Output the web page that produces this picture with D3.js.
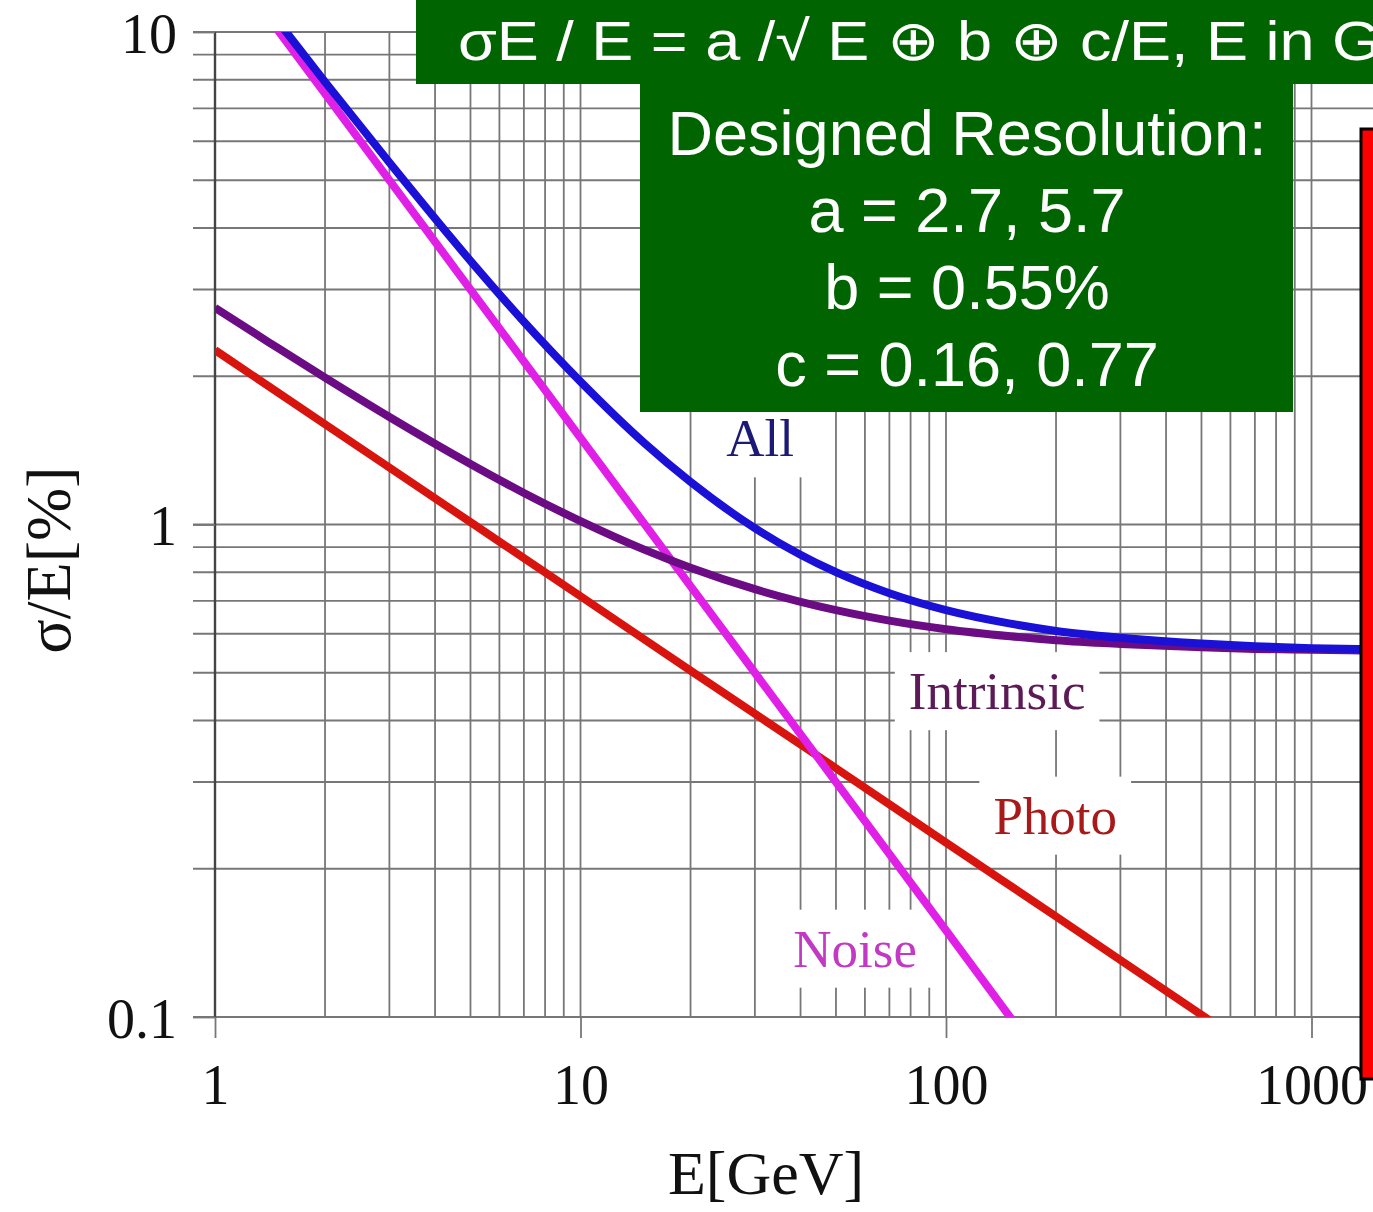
<!DOCTYPE html>
<html>
<head>
<meta charset="utf-8">
<script src="https://cdn.jsdelivr.net/npm/d3@7"></script>
<style>
  html, body { margin: 0; padding: 0; background: #fff; overflow: hidden; }
  svg { display: block; }
</style>
</head>
<body>
<svg id="chart" width="1373" height="1212"></svg>
<script>
// energies (GeV) and resolution (%)
const energies  = [1, 1.4, 1.5, 2, 3, 5, 7, 10, 15, 20, 30, 50, 70, 100, 150, 200, 300, 500, 700, 1000, 1500];
const allRes    = [null, 11.13, 10.42, 7.92, 5.43, 3.43, 2.58, 1.95, 1.46, 1.22, 0.983, 0.800, 0.725, 0.670, 0.629, 0.608, 0.589, 0.573, 0.566, 0.561, 0.558];
const intrinsic = [2.755, 2.347, 2.272, 1.987, 1.653, 1.327, 1.159, 1.016, 0.888, 0.817, 0.739, 0.670, 0.638, 0.613, 0.593, 0.582, 0.572, 0.563, 0.559, 0.557, 0.554];
const photoE    = [1, 2, 5, 10, 20, 50, 100, 200, 500, 700];
const photo     = [2.26, 1.598, 1.011, 0.715, 0.505, 0.320, 0.226, 0.160, 0.101, 0.0854];
const noiseE    = [1.4, 2, 5, 10, 20, 50, 100, 170];
const noise     = [10.7, 7.5, 3.0, 1.5, 0.75, 0.30, 0.15, 0.088];

const xTicks = [1, 10, 100, 1000];
const yTicks = [0.1, 1, 10];

const seriesNames  = ['All', 'Intrinsic', 'Photo', 'Noise'];
const seriesColors = ['#1a10d6', '#6c0c84', '#d8140e', '#e020e6'];
const labelColors  = ['#1c1a74', '#5c1a56', '#a81a1a', '#c23ac4'];
// label anchors in data coordinates [E, sigma]
const labelAt = [[31, 1.5], [138, 0.46], [199, 0.257], [56.4, 0.138]];

const svg = d3.select('#chart');
const W = 1373;
const plotLeft = 215, plotTop = 32, plotBottom = 1017;
const serif = '"Liberation Serif", "Times New Roman", serif';

const x = d3.scaleLog().domain([1, 1000]).range([plotLeft, 1311.5]);
const y = d3.scaleLog().domain([0.1, 10]).range([plotBottom, plotTop]);

// grid
const xGrid = [];
[1, 10, 100, 1000].forEach(d => { for (let k = 1; k <= 9; k++) { const v = d * k; if (x(v) < W) xGrid.push(v); } });
const yGrid = [];
[0.1, 1].forEach(d => { for (let k = 1; k <= 9; k++) yGrid.push(d * k); });
yGrid.push(10);

const grid = svg.append('g');
grid.selectAll('.hg').data(yGrid).enter().append('line')
  .attr('x1', 193).attr('x2', W)
  .attr('y1', d => y(d)).attr('y2', d => y(d))
  .attr('stroke', '#777').attr('stroke-width', 1.8);
grid.selectAll('.vg').data(xGrid).enter().append('line')
  .attr('x1', d => x(d)).attr('x2', d => x(d))
  .attr('y1', plotTop).attr('y2', plotBottom)
  .attr('stroke', d => d === 1 ? '#444' : '#777')
  .attr('stroke-width', d => d === 1 ? 2.4 : 1.8);

// axes
const xAxis = svg.append('g').attr('transform', `translate(0,${plotBottom})`)
  .call(d3.axisBottom(x).tickValues(xTicks).tickFormat(d3.format('d')).tickSize(21).tickPadding(26));
const yAxis = svg.append('g').attr('transform', `translate(${plotLeft},0)`)
  .call(d3.axisLeft(y).tickValues(yTicks).tickFormat(d => d === 0.1 ? '0.1' : String(d)).tickSize(22).tickPadding(16));
[xAxis, yAxis].forEach(a => {
  a.select('.domain').remove();
  a.selectAll('line').attr('stroke', '#777').attr('stroke-width', 1.8);
  a.selectAll('text').attr('font-family', serif).attr('font-size', 56).attr('fill', '#111');
});
yAxis.selectAll('text').attr('dy', '0.36em');

svg.append('text').attr('x', 766).attr('y', 1194).attr('text-anchor', 'middle')
  .attr('font-family', serif).attr('font-size', 62).attr('fill', '#111')
  .text('E[GeV]');
svg.append('text').attr('transform', 'translate(70,560) rotate(-90)').attr('text-anchor', 'middle')
  .attr('font-family', serif).attr('font-size', 64).attr('fill', '#111')
  .text('σ/E[%]');

// labels with white backing
labelAt.forEach((p, i) => {
  const g = svg.append('g');
  const t = g.append('text').attr('x', x(p[0])).attr('y', y(p[1])).attr('text-anchor', 'middle')
    .attr('dy', '0.35em').attr('font-family', serif).attr('font-size', 53)
    .attr('fill', labelColors[i]).text(seriesNames[i]);
  const bb = t.node().getBBox();
  g.insert('rect', 'text').attr('x', bb.x - 14).attr('y', bb.y - 10)
    .attr('width', bb.width + 28).attr('height', bb.height + 20).attr('fill', '#fff');
});

// curves
svg.append('clipPath').attr('id', 'plot').append('rect')
  .attr('x', plotLeft).attr('y', plotTop).attr('width', W - plotLeft).attr('height', plotBottom - plotTop);
const line = d3.line().defined(d => d[1] != null).x(d => x(d[0])).y(d => y(d[1])).curve(d3.curveMonotoneX);
const curves = [
  energies.map((e, i) => [e, allRes[i]]),
  energies.map((e, i) => [e, intrinsic[i]]),
  photoE.map((e, i) => [e, photo[i]]),
  noiseE.map((e, i) => [e, noise[i]])
];
const drawOrder = [2, 3, 1, 0];
svg.append('g').attr('clip-path', 'url(#plot)')
  .selectAll('path').data(drawOrder).enter().append('path')
  .attr('d', i => line(curves[i]))
  .attr('fill', 'none').attr('stroke', i => seriesColors[i]).attr('stroke-width', 8);

// overlays
const green = '#006400';
svg.append('rect').attr('x', 416).attr('y', 0).attr('width', W - 416).attr('height', 84).attr('fill', green);
svg.append('text').attr('x', 458).attr('y', 60).attr('font-family', '"Liberation Sans", Arial, sans-serif')
  .attr('font-size', 56).attr('fill', '#fff').attr('textLength', 1000).attr('lengthAdjust', 'spacingAndGlyphs')
  .text('σE / E = a /√ E ⊕  b ⊕ c/E, E in GeV');

svg.append('rect').attr('x', 640).attr('y', 83).attr('width', 653).attr('height', 329).attr('fill', green);
const boxLines = ['Designed Resolution:', 'a = 2.7, 5.7', 'b = 0.55%', 'c = 0.16, 0.77'];
svg.selectAll('.bl').data(boxLines).enter().append('text')
  .attr('x', 967).attr('y', (d, i) => 155 + i * 77).attr('text-anchor', 'middle')
  .attr('font-family', '"Liberation Sans", Arial, sans-serif').attr('font-size', 63).attr('fill', '#fff')
  .text(d => d);

svg.append('rect').attr('x', 1361).attr('y', 129).attr('width', 40).attr('height', 950)
  .attr('fill', '#ff0000').attr('stroke', '#000').attr('stroke-width', 3);
</script>
</body>
</html>
